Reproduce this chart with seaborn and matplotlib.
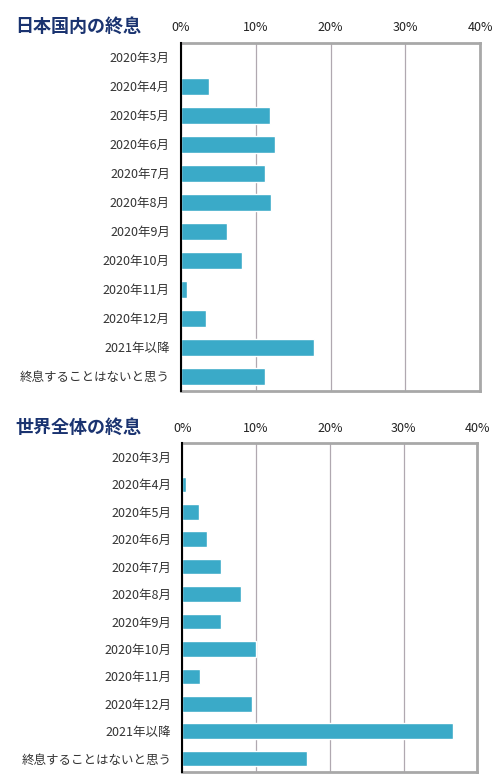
"""国内・世界の終息時期の見通し（横棒グラフ2枚）"""

import matplotlib.pyplot as plt
import pandas as pd
import seaborn as sns
from matplotlib.ticker import FuncFormatter

categories = [
    "2020年3月", "2020年4月", "2020年5月", "2020年6月", "2020年7月",
    "2020年8月", "2020年9月", "2020年10月", "2020年11月", "2020年12月",
    "2021年以降", "終息することはないと思う",
]
japan = [0.0, 3.8, 11.9, 12.6, 11.2, 12.0, 6.2, 8.2, 0.85, 3.3, 17.8, 11.3]
world = [0.0, 0.45, 2.3, 3.3, 5.2, 7.9, 5.3, 10.0, 2.4, 9.4, 36.7, 16.9]
titles = ["日本国内の終息", "世界全体の終息"]
xticks = [0, 10, 20, 30, 40]

sns.set_theme(style="white")
plt.rcParams["font.family"] = ["Noto Sans CJK JP", "DejaVu Sans"]

fig = plt.figure(figsize=(5, 7.81), dpi=100)
axes = [
    fig.add_axes([0.362, 0.4994, 0.598, 0.4459]),
    fig.add_axes([0.3646, 0.0111, 0.590, 0.4213]),
]

for ax, vals, title in zip(axes, [japan, world], titles):
    df = pd.DataFrame({"cat": categories, "pct": vals})
    sns.barplot(data=df, x="pct", y="cat", orient="h", color="#3AAAC8",
                saturation=1, width=0.57, ax=ax)
    ax.set_xlim(0, 40)
    ax.set_ylim(len(categories) - 0.5, -0.5)
    ax.set_xticks(xticks)
    ax.xaxis.set_major_formatter(FuncFormatter(lambda v, p: f"{v:.0f}%"))
    ax.xaxis.tick_top()
    ax.tick_params(axis="x", length=0, pad=6, labelsize=9, labelcolor="#222222")
    ax.tick_params(axis="y", length=0, pad=8, labelsize=9, labelcolor="#333333")
    ax.set_xlabel("")
    ax.set_ylabel("")
    ax.grid(axis="x", color="#B0A8B0", linewidth=0.9)
    ax.set_axisbelow(True)
    for side in ["top", "right", "bottom"]:
        ax.spines[side].set_color("#A8A8A8")
        ax.spines[side].set_linewidth(2)
    ax.spines["left"].set_color("black")
    ax.spines["left"].set_linewidth(1.5)
    ax.spines["left"].set_zorder(5)

fig.text(0.03, 1 - 26 / 781, titles[0], fontsize=13, fontweight="bold",
         color="#1A3370", va="center", ha="left")
fig.text(0.03, 1 - 427 / 781, titles[1], fontsize=13, fontweight="bold",
         color="#1A3370", va="center", ha="left")

fig.savefig("out.png", dpi=100)
plt.close(fig)
